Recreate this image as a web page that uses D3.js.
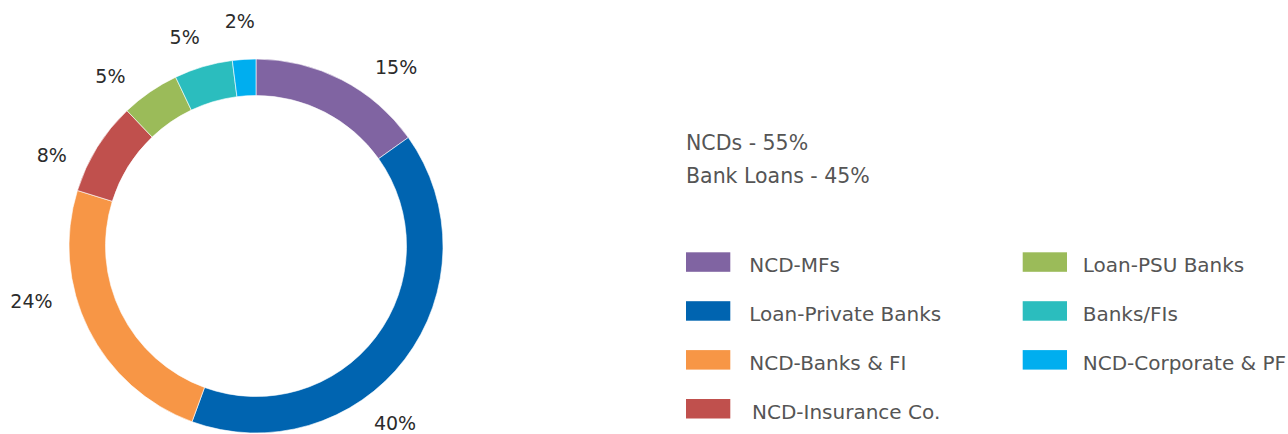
<!DOCTYPE html>
<html>
<head>
<meta charset="utf-8">
<script src="https://cdn.jsdelivr.net/npm/d3@7"></script>
<style>
  html, body { margin: 0; padding: 0; background: #fff; overflow: hidden; }
  svg { display: block; font-family: "DejaVu Sans", sans-serif; }
</style>
</head>
<body>
<svg id="chart" width="1288" height="434"></svg>
<script>
// Borrowing mix by source (percent of total)
const categories = ["NCD-MFs", "Loan-Private Banks", "NCD-Banks & FI", "NCD-Insurance Co.",
                    "Loan-PSU Banks", "Banks/FIs", "NCD-Corporate & PF"];
const shares = [15, 40, 24, 8, 5, 5, 2];
const sliceLabels = ["15%", "40%", "24%", "8%", "5%", "5%", "2%"];
const summaryLines = ["NCDs - 55%", "Bank Loans - 45%"];
const palette = ["#8064A2", "#0064B0", "#F79646", "#C0504D", "#9BBB59", "#2BBDBE", "#00AEEF"];

// Legend is laid out in two columns
const legendColumn = [0, 0, 0, 0, 1, 1, 1];
const legendRow = [0, 1, 2, 3, 0, 1, 2];

// Fine placement of each percentage label around the ring
const labelNudge = [[37, 21], [-40, 41], [-23, -45], [-13, 28], [-18, 15], [-8, 7], [-2, 0]];

const svg = d3.select("#chart");
const cx = 256, cy = 246;
const outerR = 187, innerR = 150.5, labelR = 225;

const pie = d3.pie().sort(null).value(d => d)
  .startAngle(0).endAngle(2 * Math.PI);
const arcs = pie(shares);

const arc = d3.arc().innerRadius(innerR).outerRadius(outerR);
const labelArc = d3.arc().innerRadius(labelR).outerRadius(labelR);

const ring = svg.append("g").attr("transform", `translate(${cx},${cy})`);

ring.selectAll("path.slice")
  .data(arcs)
  .join("path")
  .attr("class", "slice")
  .attr("d", arc)
  .attr("fill", (d, i) => palette[i])
  .attr("stroke", "#fff")
  .attr("stroke-width", 0.6);

ring.selectAll("text.pct")
  .data(arcs)
  .join("text")
  .attr("class", "pct")
  .attr("x", (d, i) => labelArc.centroid(d)[0] + labelNudge[i][0])
  .attr("y", (d, i) => labelArc.centroid(d)[1] + labelNudge[i][1])
  .attr("text-anchor", "middle")
  .attr("dominant-baseline", "central")
  .attr("font-size", 19)
  .attr("fill", "#2b2b2b")
  .text((d, i) => sliceLabels[i]);

// Summary lines
svg.append("g")
  .selectAll("text")
  .data(summaryLines)
  .join("text")
  .attr("x", 686)
  .attr("y", (d, i) => 150 + i * 33.3)
  .attr("font-size", 20.5)
  .attr("fill", "#555")
  .text(d => d);

// Legend
const colX = d3.scaleOrdinal().domain([0, 1]).range([686, 1022.7]);
const rowY = d3.scaleLinear().domain([0, 1]).range([252.3, 301.2]);
const textGap = [19, 15.7];
const swW = 44.3, swH = 19.5;

const legend = svg.append("g")
  .selectAll("g")
  .data(categories)
  .join("g")
  .attr("transform", (d, i) => `translate(${colX(legendColumn[i])},${rowY(legendRow[i])})`);

legend.append("rect")
  .attr("width", swW)
  .attr("height", swH)
  .attr("fill", (d, i) => palette[i]);

legend.append("text")
  .attr("x", (d, i) => swW + textGap[legendColumn[i]] + (i === 3 ? 2.7 : 0))
  .attr("y", swH)
  .attr("font-size", 20)
  .attr("fill", "#555")
  .text(d => d);
</script>
</body>
</html>
